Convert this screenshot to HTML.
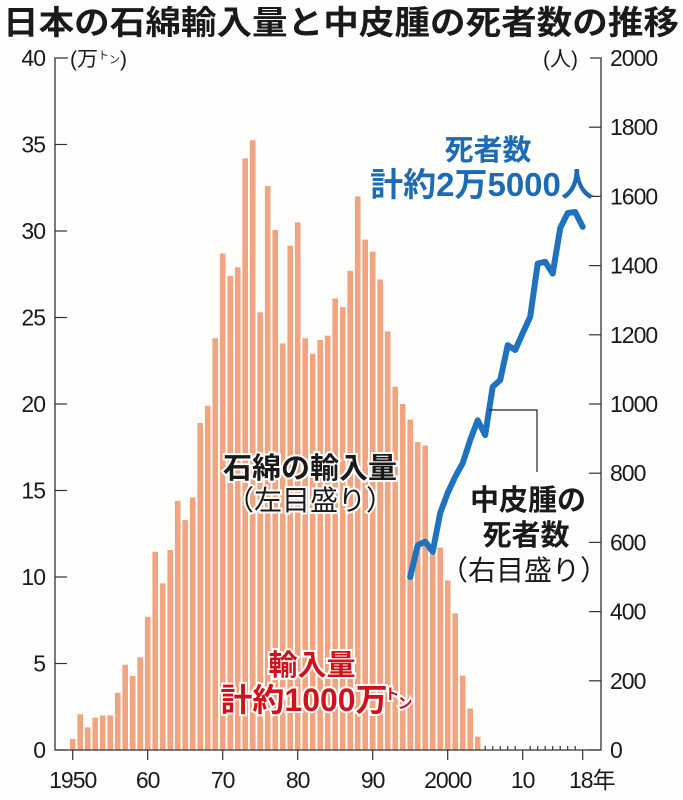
<!DOCTYPE html>
<html><head><meta charset="utf-8">
<style>
html,body{margin:0;padding:0;background:#fdfdfc;}
svg{display:block;}
text{font-family:"Liberation Sans","Noto Sans CJK JP",sans-serif;}
</style></head>
<body>
<svg id="s" width="683" height="800" viewBox="0 0 683 800" xmlns="http://www.w3.org/2000/svg">
<rect width="683" height="800" fill="#fdfdfc"/>
<text x="3" y="34" font-size="33" font-weight="bold" fill="#1a1a1a" font-family="'Noto Sans CJK JP',sans-serif" textLength="676" lengthAdjust="spacingAndGlyphs">日本の石綿輸入量と中皮腫の死者数の推移</text>
<g id="bars" fill="#f0a47f"></g>
<g stroke="#333" stroke-width="1.3" fill="none">
<polyline points="68,58 55,58 55,750 601,750 601,58 590,58"/>
</g>
<g id="ticks" stroke="#333" stroke-width="1.2"></g>
<g id="labels" font-size="23" letter-spacing="-1" fill="#1a1a1a"></g>
<text x="70" y="66" font-size="21" fill="#1a1a1a">(万<tspan font-size="11" dy="-7">ト</tspan><tspan font-size="11" dy="4">ン</tspan><tspan dy="3">)</tspan></text>
<text x="543" y="66" font-size="21" fill="#1a1a1a">(人)</text>
<polyline id="line" fill="none" stroke="#1f72c0" stroke-width="6" stroke-linejoin="round" stroke-linecap="round"/>
<polyline points="489,410 537,410 537,472" fill="none" stroke="#222" stroke-width="1.2"/>
<g font-family="'Noto Sans CJK JP',sans-serif" font-weight="bold" text-anchor="middle">
<text x="488" y="160" font-size="29" fill="#1e6bb5">死者数</text>
<text x="482" y="196" font-size="33" fill="#1e6bb5">計約2万5000人</text>
<g stroke="#fff" stroke-width="4" paint-order="stroke" fill="#1a1a1a">
<text x="310" y="478" font-size="29">石綿の輸入量</text>
<text x="310" y="510" font-size="28" font-weight="normal">（左目盛り）</text>
<text x="312" y="675" font-size="29" fill="#d0121b">輸入量</text>
<text x="304" y="711" font-size="32" fill="#d0121b">計約1000万</text>
<text x="392" y="699" font-size="15" fill="#d0121b">ト</text>
<text x="405" y="708" font-size="15" fill="#d0121b">ン</text>
<text x="528" y="510" font-size="29">中皮腫の</text>
<text x="526" y="545" font-size="29">死者数</text>
<text x="524" y="580" font-size="28" font-weight="normal">（右目盛り）</text>
</g>
</g>
</svg>
<script>
var NS="http://www.w3.org/2000/svg";
function el(p,t,a,txt){var e=document.createElementNS(NS,t);for(var k in a)e.setAttribute(k,a[k]);if(txt!=null)e.textContent=txt;document.getElementById(p).appendChild(e);}
var v=[0.64,2.06,1.31,1.87,2.0,2.0,3.31,4.93,4.28,5.36,7.7,11.46,9.63,11.56,14.4,13.3,14.6,18.9,19.9,23.8,28.7,27.4,27.9,34.2,35.25,25.3,32.6,30.06,23.5,29.15,30.5,23.8,22.9,23.7,23.95,26.1,25.6,27.7,32.0,29.5,28.8,27.2,24.2,21.0,20.0,19.1,17.8,17.6,11.8,11.7,9.8,7.9,4.3,2.4,0.77];
function X(y){return 72.7+(y-1950)*7.5;}
v.forEach(function(h,i){var hh=h*17.3;el("bars","rect",{x:X(1950+i)-2.8,y:750-hh,width:5.6,height:hh});});
var d=[500,592,602,573,685,743,790,829,896,953,910,1050,1069,1170,1156,1205,1252,1406,1411,1377,1508,1552,1555,1512];
var pts=d.map(function(p,i){return X(1995+i).toFixed(1)+","+(750-p*0.346).toFixed(1);}).join(" ");
document.getElementById("line").setAttribute("points",pts);
for(var i=0;i<=8;i++){var y=750-i*5*17.3;
 if(i<8){el("ticks","line",{x1:55,x2:67,y1:y,y2:y});}
 el("labels","text",{x:45,y:y+8,"text-anchor":"end"},String(i*5));}
for(var j=0;j<=10;j++){var yy=750-j*200*0.346;
 if(j<10)el("ticks","line",{x1:589,x2:601,y1:yy,y2:yy});
 el("labels","text",{x:610,y:yy+8},String(j*200));}
[1950,1960,1970,1980,1990,2000,2010,2018].forEach(function(y){el("ticks","line",{x1:X(y),x2:X(y),y1:750,y2:760});});
for(var y=2005;y<=2017;y++){if(y!=2010)el("ticks","line",{x1:X(y),x2:X(y),y1:746,y2:750});}
var xl=[[1950,"1950"],[1960,"60"],[1970,"70"],[1980,"80"],[1990,"90"],[2000,"2000"],[2010,"10"]];
xl.forEach(function(a){el("labels","text",{x:X(a[0]),y:788,"text-anchor":"middle"},a[1]);});
el("labels","text",{x:569,y:788},"18年");
</script>
</body></html>
